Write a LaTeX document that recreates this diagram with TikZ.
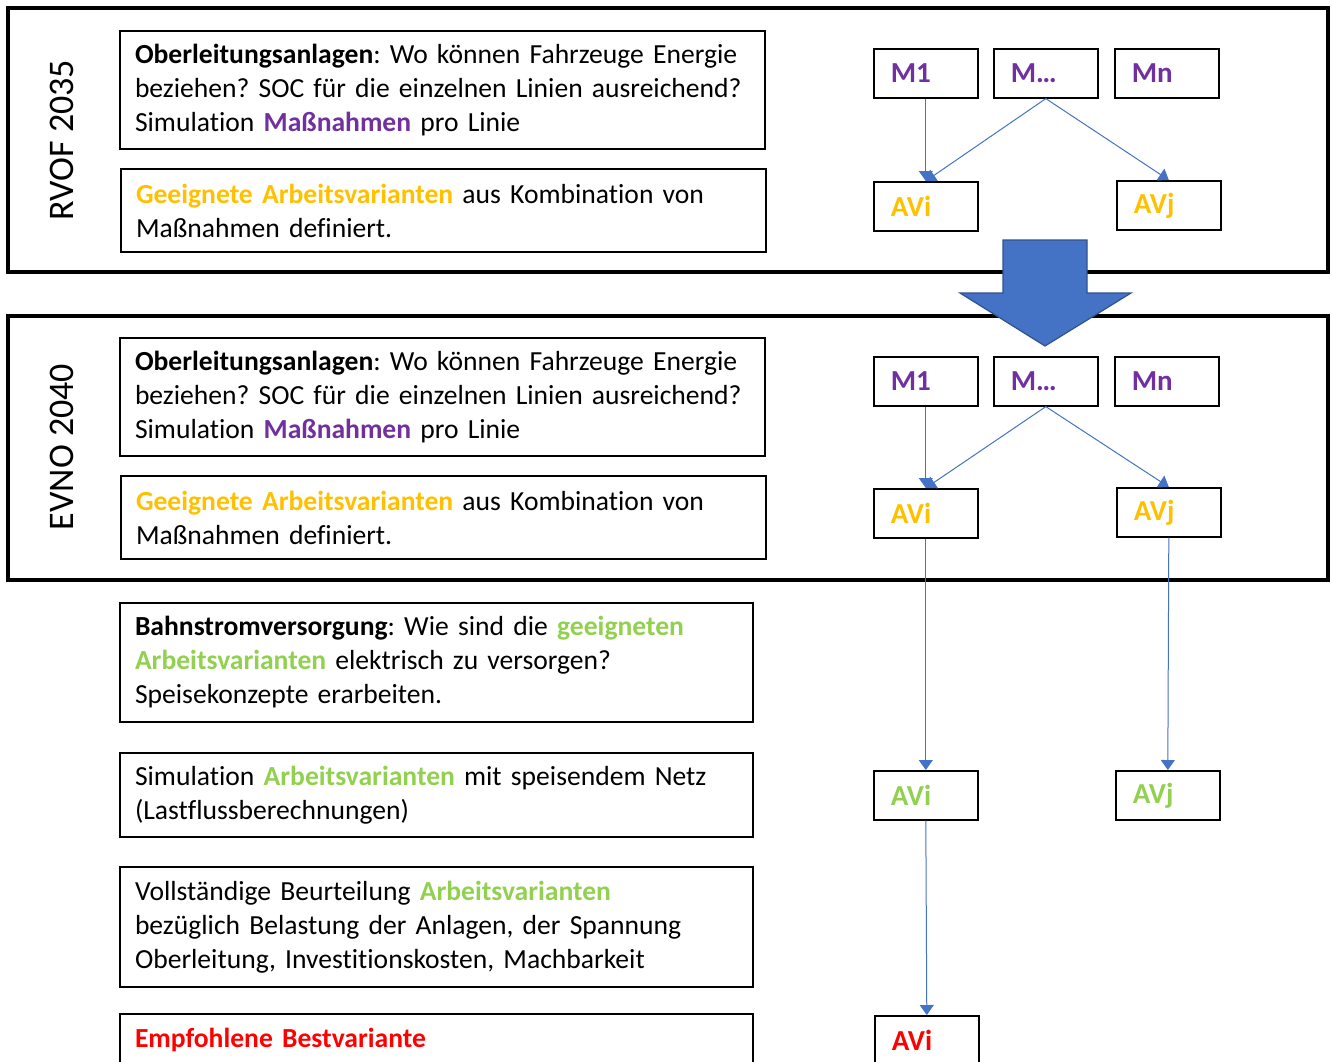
\documentclass[tikz,border=0pt]{standalone}
\usepackage{fontspec}
\setmainfont{Carlito}[Ligatures=NoCommon]
\usetikzlibrary{arrows.meta}

\definecolor{mpurple}{HTML}{7030A0}
\definecolor{avorange}{HTML}{FFC000}
\definecolor{avgreen}{HTML}{92D050}
\definecolor{avred}{HTML}{FF0000}
\definecolor{flowblue}{HTML}{4472C4}
\definecolor{flowedge}{HTML}{2F528F}

\newcommand{\bodyfont}{\fontsize{13.8}{17}\selectfont}
\frenchspacing

\begin{document}
\begin{tikzpicture}[x=0.5pt, y=-0.5pt,
    textbox/.style={draw, line width=1pt, anchor=north west, align=left,
        inner xsep=7.5pt, inner ysep=0pt, font=\bodyfont},
    widebox/.style={textbox, minimum width=322.5pt, text width=307.5pt},
    narrowbox/.style={textbox, minimum width=316.5pt, text width=301.5pt},
    smallbox/.style={draw, line width=0.8pt, anchor=north west, align=left,
        minimum width=52pt, minimum height=24.5pt, text width=35pt,
        inner xsep=8pt, inner ysep=0pt, font=\fontsize{14.5}{18}\selectfont\bfseries},
    flow/.style={flowblue, line width=0.5pt, -{Triangle[width=7pt,length=5pt]}},
    frame/.style={line width=2pt},
    stage/.style={rotate=90, font=\fontsize{18}{21}\selectfont}]
    \useasboundingbox (0,0) rectangle (1332,1061);
    \clip (0,0) rectangle (1332,1061);

    % Frames
    \draw[frame] (8,8) rectangle (1328,272);
    \draw[frame] (8,316) rectangle (1328,580);
    \node[stage] (rvof) at (62,140) {RVOF 2035};
    \node[stage] (evno) at (62,447) {EVNO 2040};

    % RVOF 2035
    \node[widebox, minimum height=59pt] (olA) at (119,30)
        {\mbox{\textbf{Oberleitungsanlagen}: Wo können Fahrzeuge Energie}\\
         \mbox{beziehen? SOC für die einzelnen Linien ausreichend?}\\
         \mbox{Simulation \textcolor{mpurple}{\textbf{Maßnahmen}} pro Linie}};
    \node[widebox, minimum height=41.5pt] (gaA) at (120,168)
        {\mbox{\textcolor{avorange}{\textbf{Geeignete Arbeitsvarianten}} aus Kombination von}\\
         Maßnahmen definiert.};

    \node[smallbox, text=mpurple] (m1A) at (873,48) {M1};
    \node[smallbox, text=mpurple] (mxA) at (993,48) {M…};
    \node[smallbox, text=mpurple] (mnA) at (1114,48) {Mn};
    \node[smallbox, text=avorange] (aviA) at (873,181) {AVi};
    \node[smallbox, text=avorange] (avjA) at (1116,180) {AVj};

    \draw[flow] (m1A.south) -- (aviA.north);
    \draw[flow] (mxA.south) -- (aviA.north);
    \draw[flow] (mxA.south) -- (avjA.north);

    % EVNO 2040
    \node[widebox, minimum height=59pt] (olB) at (119,337)
        {\mbox{\textbf{Oberleitungsanlagen}: Wo können Fahrzeuge Energie}\\
         \mbox{beziehen? SOC für die einzelnen Linien ausreichend?}\\
         \mbox{Simulation \textcolor{mpurple}{\textbf{Maßnahmen}} pro Linie}};
    \node[widebox, minimum height=41.5pt] (gaB) at (120,475)
        {\mbox{\textcolor{avorange}{\textbf{Geeignete Arbeitsvarianten}} aus Kombination von}\\
         Maßnahmen definiert.};

    \node[smallbox, text=mpurple] (m1B) at (873,356) {M1};
    \node[smallbox, text=mpurple] (mxB) at (993,356) {M…};
    \node[smallbox, text=mpurple] (mnB) at (1114,356) {Mn};
    \node[smallbox, text=avorange] (aviB) at (873,488) {AVi};
    \node[smallbox, text=avorange] (avjB) at (1116,487) {AVj};

    \draw[flow] (m1B.south) -- (aviB.north);
    \draw[flow] (mxB.south) -- (aviB.north);
    \draw[flow] (mxB.south) -- (avjB.north);

    % Big arrow between stages
    \draw[fill=flowblue, draw=flowedge, line width=0.6pt]
        (1003,240) -- (1087,240) -- (1087,293) -- (1131,293) -- (1045,346)
        -- (960,293) -- (1003,293) -- cycle;

    % Follow-up steps
    \node[narrowbox, minimum height=59.5pt] (bahn) at (119,602)
        {\mbox{\textbf{Bahnstromversorgung}: Wie sind die \textcolor{avgreen}{\textbf{geeigneten}}}\\
         \mbox{\textcolor{avgreen}{\textbf{Arbeitsvarianten}} elektrisch zu versorgen?}\\
         Speisekonzepte erarbeiten.};
    \node[narrowbox, minimum height=42pt] (simnetz) at (119,752)
        {\mbox{Simulation \textcolor{avgreen}{\textbf{Arbeitsvarianten}} mit speisendem Netz}\\
         (Lastflussberechnungen)};
    \node[narrowbox, minimum height=60pt] (beurt) at (119,866)
        {\mbox{Vollständige Beurteilung \textcolor{avgreen}{\textbf{Arbeitsvarianten}}}\\
         \mbox{bezüglich Belastung der Anlagen, der Spannung}\\
         \mbox{Oberleitung, Investitionskosten, Machbarkeit}};
    \node[narrowbox, minimum height=25.5pt] (best) at (119,1013)
        {\textcolor{avred}{\textbf{Empfohlene Bestvariante}}};

    \node[smallbox, text=avgreen] (aviC) at (873,770) {AVi};
    \node[smallbox, text=avgreen] (avjC) at (1115,770) {AVj};
    \node[smallbox, text=avred] (aviD) at (874,1015) {AVi};

    \draw[flow] (aviB.south) -- (aviC.north);
    \draw[flow] (avjB.south) -- (avjC.north);
    \draw[flow] (aviC.south) -- (aviD.north);
\end{tikzpicture}
\end{document}
